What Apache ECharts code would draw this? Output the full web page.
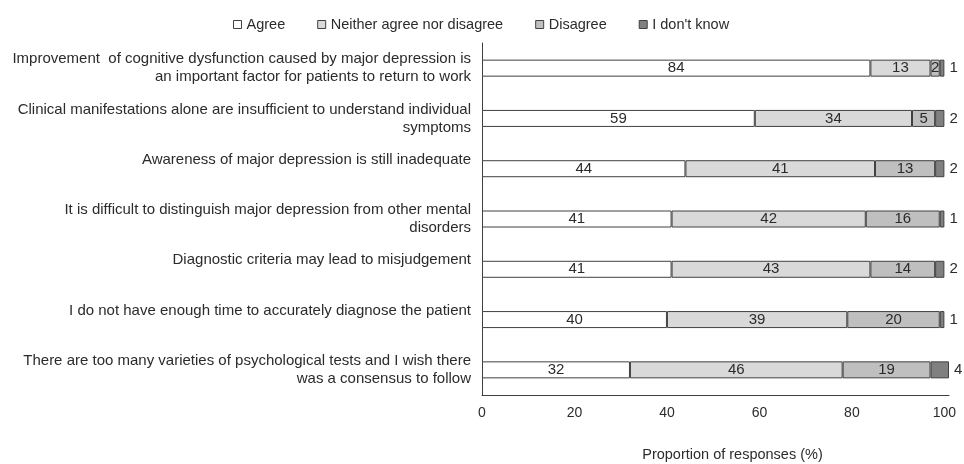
<!DOCTYPE html>
<html>
<head>
<meta charset="utf-8">
<script src="https://cdn.jsdelivr.net/npm/echarts@6/dist/echarts.min.js"></script>
<style>html,body{margin:0;padding:0;background:#fff;}#c{width:964px;height:464px;}</style>
</head>
<body>
<div id="c"></div>
<script>
const categories = [
  "Improvement  of cognitive dysfunction caused by major depression is\nan important factor for patients to return to work",
  "Clinical manifestations alone are insufficient to understand individual\nsymptoms",
  "Awareness of major depression is still inadequate\n",
  "It is difficult to distinguish major depression from other mental\ndisorders",
  "Diagnostic criteria may lead to misjudgement\n",
  "I do not have enough time to accurately diagnose the patient\n",
  "There are too many varieties of psychological tests and I wish there\nwas a consensus to follow"
];
const seriesNames = ["Agree", "Neither agree nor disagree", "Disagree", "I don't know"];
const agree    = [84, 59, 44, 41, 41, 40, 32];
const neither  = [13, 34, 41, 42, 43, 39, 46];
const disagree = [2, 5, 13, 16, 14, 20, 19];
const dontKnow = [1, 2, 2, 1, 2, 1, 4];
const xTicks = [0, 20, 40, 60, 80, 100];

const colors = ["#ffffff", "#d9d9d9", "#bfbfbf", "#808080"];
const values = [agree, neither, disagree, dontKnow];
const font = "'Liberation Sans', Arial, sans-serif";
const txt = '#2b2b2b';

const chart = echarts.init(document.getElementById('c'));
chart.setOption({
  animation: false,
  textStyle: { fontFamily: font },
  legend: {
    top: 12, left: 228,
    icon: 'rect', itemWidth: 8, itemHeight: 8, itemGap: 32, itemTextGap: 2,
    textStyle: { fontSize: 14.5, color: txt, fontFamily: font },
    data: seriesNames.map(n => ({ name: n, itemStyle: { borderColor: '#404040', borderWidth: 1 } }))
  },
  grid: { left: 482, right: 15, top: 43, bottom: 69, outerBoundsMode: 'none', containLabel: false },
  xAxis: {
    type: 'value', min: 0, max: 101, interval: 20,
    axisLine: { show: true, lineStyle: { color: '#404040', width: 1 } },
    axisTick: { show: false },
    splitLine: { show: false },
    axisLabel: {
      fontSize: 14, color: txt, margin: 11, fontFamily: font,
      formatter: v => xTicks.includes(v) ? String(v) : ''
    },
    name: 'Proportion of responses (%)',
    nameLocation: 'middle', nameGap: 52,
    nameTextStyle: { fontSize: 14.5, color: txt, padding: [0, 0, 0, 34], fontFamily: font }
  },
  yAxis: {
    type: 'category', inverse: true, data: categories,
    axisLine: { show: true, lineStyle: { color: '#404040', width: 1 } },
    axisTick: { show: false },
    axisLabel: { fontSize: 15, color: txt, margin: 11, align: 'right', lineHeight: 18, fontFamily: font }
  },
  series: seriesNames.map((n, i) => ({
    name: n, type: 'bar', stack: 'total', barWidth: 17,
    data: values[i],
    itemStyle: { color: colors[i], borderColor: '#404040', borderWidth: 1 },
    label: {
      show: true,
      position: i === 3 ? 'right' : 'inside',
      distance: 5,
      fontSize: 15, color: txt, fontFamily: font
    }
  }))
});
</script>
</body>
</html>
